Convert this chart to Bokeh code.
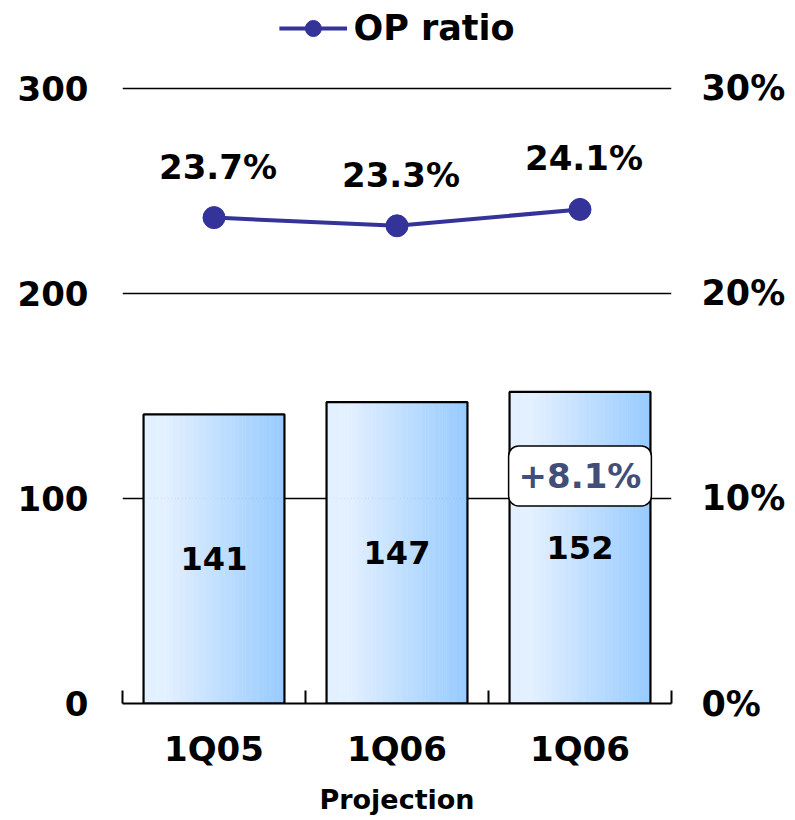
from bokeh.plotting import figure
from bokeh.models import (Range1d, LinearAxis, FixedTicker, Legend, LegendItem,
                          Label, CustomJSTickFormatter)
from bokeh.core.properties import value
from bokeh.embed import file_html
from bokeh.resources import INLINE

# ---- data ----
categories = ["1Q05", "1Q06", "1Q06"]
op_values = [141, 147, 152]
op_ratio = [23.7, 23.3, 24.1]
ratio_labels = ["23.7%", "23.3%", "24.1%"]
growth_label = "+8.1%"
left_ticks = [0, 100, 200, 300]
right_ticks = [0, 10, 20, 30]
x_title = "Projection"
legend_label = "OP ratio"

FONT = "DejaVu Sans"
LINE_COLOR = "#333399"
BAR_W = 0.77

p = figure(frame_width=549, frame_height=695,
           x_range=Range1d(0, 3), y_range=Range1d(0, 339),
           output_backend="svg", toolbar_location=None,
           min_border_left=122, min_border_right=117,
           min_border_top=8, min_border_bottom=110)
p.outline_line_color = None
p.background_fill_color = "white"
p.extra_y_ranges = {"pct": Range1d(0, 33.9)}

# grid
p.xgrid.visible = False
p.ygrid.ticker = FixedTicker(ticks=left_ticks)
p.ygrid.grid_line_color = "black"
p.ygrid.grid_line_width = 1.5

# left axis
ya = p.yaxis[0]
ya.ticker = FixedTicker(ticks=left_ticks)
ya.axis_line_color = None
ya.major_tick_line_color = None
ya.minor_tick_line_color = None
ya.major_label_text_font = FONT
ya.major_label_text_font_style = "bold"
ya.major_label_text_font_size = "34px"
ya.major_label_text_color = "black"
ya.major_label_standoff = 28

# right axis
ra = LinearAxis(y_range_name="pct", ticker=FixedTicker(ticks=right_ticks),
                formatter=CustomJSTickFormatter(code="return tick + '%';"))
ra.axis_line_color = None
ra.major_tick_line_color = None
ra.minor_tick_line_color = None
ra.major_label_text_font = FONT
ra.major_label_text_font_style = "bold"
ra.major_label_text_font_size = "35px"
ra.major_label_text_color = "black"
ra.major_label_standoff = 24
p.add_layout(ra, "right")

# x axis
centers = [i + 0.5 for i in range(len(categories))]
xa = p.xaxis[0]
xa.ticker = FixedTicker(ticks=centers, minor_ticks=[0, 1, 2, 3])
xa.formatter = CustomJSTickFormatter(args=dict(labels=categories),
                                     code="return labels[Math.floor(tick)];")
xa.axis_line_color = "black"
xa.axis_line_width = 2
xa.major_tick_line_color = None
xa.major_tick_in = 0
xa.major_tick_out = 0
xa.minor_tick_line_color = "black"
xa.minor_tick_line_width = 2
xa.minor_tick_in = 13
xa.minor_tick_out = 0
xa.major_label_text_font = FONT
xa.major_label_text_font_style = "bold"
xa.major_label_text_font_size = "34px"
xa.major_label_text_color = "black"
xa.major_label_standoff = 25
xa.axis_label = x_title
xa.axis_label_text_font = FONT
xa.axis_label_text_font_style = "bold"
xa.axis_label_text_font_size = "27px"
xa.axis_label_text_color = "black"
xa.axis_label_standoff = 12

# gradient bars built from strips
def lerp(c1, c2, t):
    return "#%02x%02x%02x" % tuple(int(round(a + (b - a) * t)) for a, b in zip(c1, c2))

c_left = (0xe3, 0xf0, 0xff)
c_right = (0x98, 0xcb, 0xff)
N = 40
sl, sr, sb, st, sc = [], [], [], [], []
for c, v in zip(centers, op_values):
    x0 = c - BAR_W / 2
    dw = BAR_W / N
    for k in range(N):
        t = k / (N - 1)
        t2 = max(0.0, (t - 0.15) / 0.85)
        sl.append(x0 + k * dw)
        sr.append(x0 + (k + 1) * dw)
        sb.append(0)
        st.append(v)
        sc.append(lerp(c_left, c_right, t2))
p.quad(left=sl, right=sr, bottom=sb, top=st, fill_color=sc, line_color=sc, line_width=0.6)
p.quad(left=[c - BAR_W / 2 for c in centers], right=[c + BAR_W / 2 for c in centers],
       bottom=[0] * len(centers), top=op_values,
       fill_color=None, line_color="black", line_width=2.2)

# bar value labels
p.text(x=centers, y=[v / 2 for v in op_values], text=[str(v) for v in op_values],
       text_font=value(FONT), text_font_style="bold", text_font_size="32px",
       text_align="center", text_baseline="middle", text_color="black")

# line
lr = p.line(x=centers, y=op_ratio, y_range_name="pct", line_color=LINE_COLOR, line_width=4)
sr_ = p.scatter(x=centers, y=op_ratio, y_range_name="pct", size=22,
                fill_color=LINE_COLOR, line_color=LINE_COLOR)
p.text(x=centers, y=op_ratio, y_range_name="pct", text=ratio_labels,
       text_font=value(FONT), text_font_style="bold", text_font_size="34px",
       text_align="center", text_baseline="alphabetic", text_color="black",
       x_offset=4, y_offset=-51)

# callout
lab = Label(x=centers[2], y=111, text=growth_label, text_align="center",
            text_baseline="middle", text_font=FONT, text_font_style="bold",
            text_font_size="34px", text_color="#404e78",
            background_fill_color="white", border_line_color="black",
            border_line_width=1.5, padding=10, border_radius=10)
p.add_layout(lab)

# legend
legend = Legend(items=[LegendItem(label=legend_label, renderers=[lr, sr_])],
                location="top_center", border_line_color=None,
                background_fill_alpha=0, label_text_font=FONT,
                label_text_font_style="bold", label_text_font_size="35px",
                label_text_color="black",
                glyph_width=68, glyph_height=40, label_standoff=7,
                margin=0, padding=0)
p.add_layout(legend)

open("out.html", "w").write(file_html(p, INLINE))
